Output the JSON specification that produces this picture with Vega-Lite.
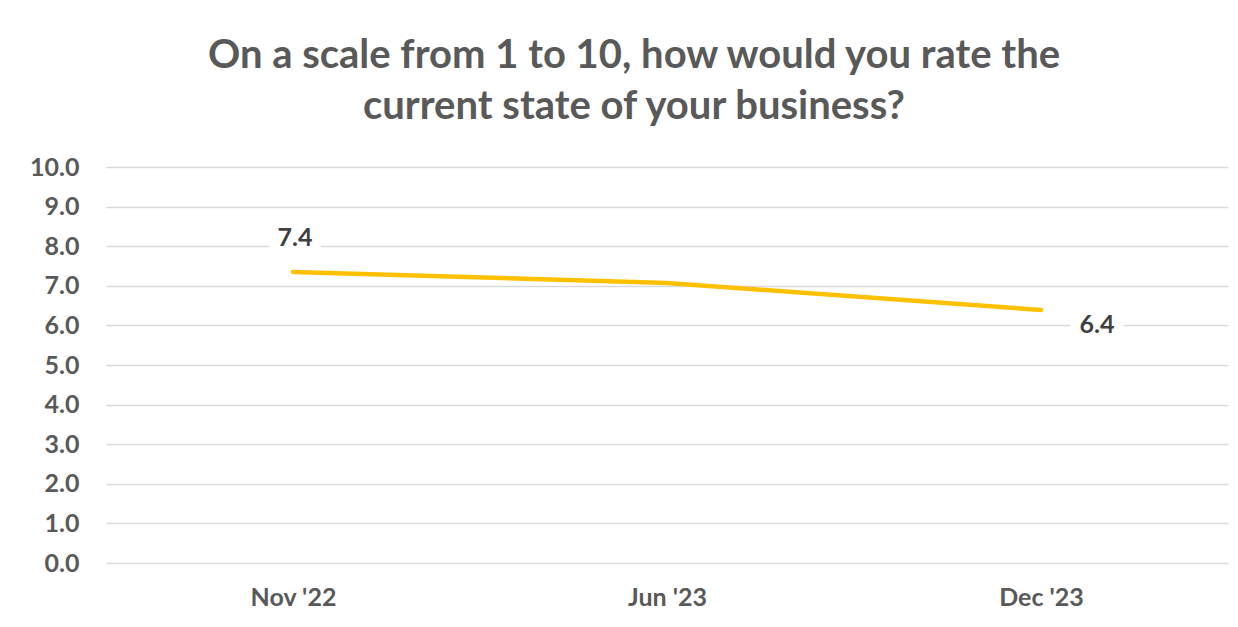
{
  "$schema": "https://vega.github.io/schema/vega-lite/v6.json",
  "autosize": {"type": "none"},
  "width": 1122,
  "height": 396,
  "padding": {"left": 106, "top": 167, "right": 10, "bottom": 64},
  "background": "white",
  "config": {
    "view": {"stroke": null},
    "font": "Lato"
  },
  "title": {
    "text": ["On a scale from 1 to 10, how would you rate the", "current state of your business?"],
    "fontSize": 40,
    "fontWeight": "bold",
    "font": "Lato",
    "color": "#595959",
    "anchor": "middle",
    "frame": "group",
    "dx": -33,
    "offset": 28,
    "lineHeight": 51
  },
  "data": {
    "values": [
      {"month": "Nov '22", "score": 7.35, "label": "7.4"},
      {"month": "Jun '23", "score": 7.07, "label": ""},
      {"month": "Dec '23", "score": 6.39, "label": "6.4"}
    ]
  },
  "encoding": {
    "x": {
      "field": "month",
      "type": "nominal",
      "sort": null,
      "scale": {"type": "point", "padding": 0.5},
      "axis": {
        "title": null,
        "labelAngle": 0,
        "labelFont": "Lato",
        "labelFontSize": 25,
        "labelFontWeight": "bold",
        "labelColor": "#595959",
        "labelPadding": 22,
        "ticks": false,
        "domain": false,
        "grid": false
      }
    },
    "y": {
      "field": "score",
      "type": "quantitative",
      "scale": {"domain": [0, 10], "nice": false},
      "axis": {
        "title": null,
        "values": [0, 1, 2, 3, 4, 5, 6, 7, 8, 9, 10],
        "format": ".1f",
        "labelFont": "Lato",
        "labelFontSize": 25,
        "labelFontWeight": "bold",
        "labelColor": "#595959",
        "labelPadding": 27,
        "ticks": false,
        "domain": false,
        "grid": true,
        "gridColor": "#d9d9d9",
        "gridWidth": 1.3
      }
    }
  },
  "layer": [
    {
      "mark": {"type": "line", "color": "#FFC000", "strokeWidth": 4.5, "strokeCap": "round", "strokeJoin": "round"}
    },
    {
      "transform": [{"filter": "datum.month === \"Nov '22\""}],
      "mark": {"type": "point", "shape": "M-1,-0.55H1V0.55H-1Z", "filled": true, "color": "white", "opacity": 1, "size": 2700, "xOffset": 2, "yOffset": -34}
    },
    {
      "transform": [{"filter": "datum.month === \"Dec '23\""}],
      "mark": {"type": "point", "shape": "M-1,-0.55H1V0.55H-1Z", "filled": true, "color": "white", "opacity": 1, "size": 2800, "xOffset": 56, "yOffset": 15}
    },
    {
      "transform": [{"filter": "datum.month === \"Nov '22\""}],
      "mark": {"type": "text", "font": "Lato", "fontSize": 25, "fontWeight": "bold", "color": "#404040", "xOffset": 2, "yOffset": -34, "baseline": "middle", "align": "center"},
      "encoding": {"text": {"field": "label"}}
    },
    {
      "transform": [{"filter": "datum.month === \"Dec '23\""}],
      "mark": {"type": "text", "font": "Lato", "fontSize": 25, "fontWeight": "bold", "color": "#404040", "xOffset": 56, "yOffset": 15, "baseline": "middle", "align": "center"},
      "encoding": {"text": {"field": "label"}}
    }
  ]
}
